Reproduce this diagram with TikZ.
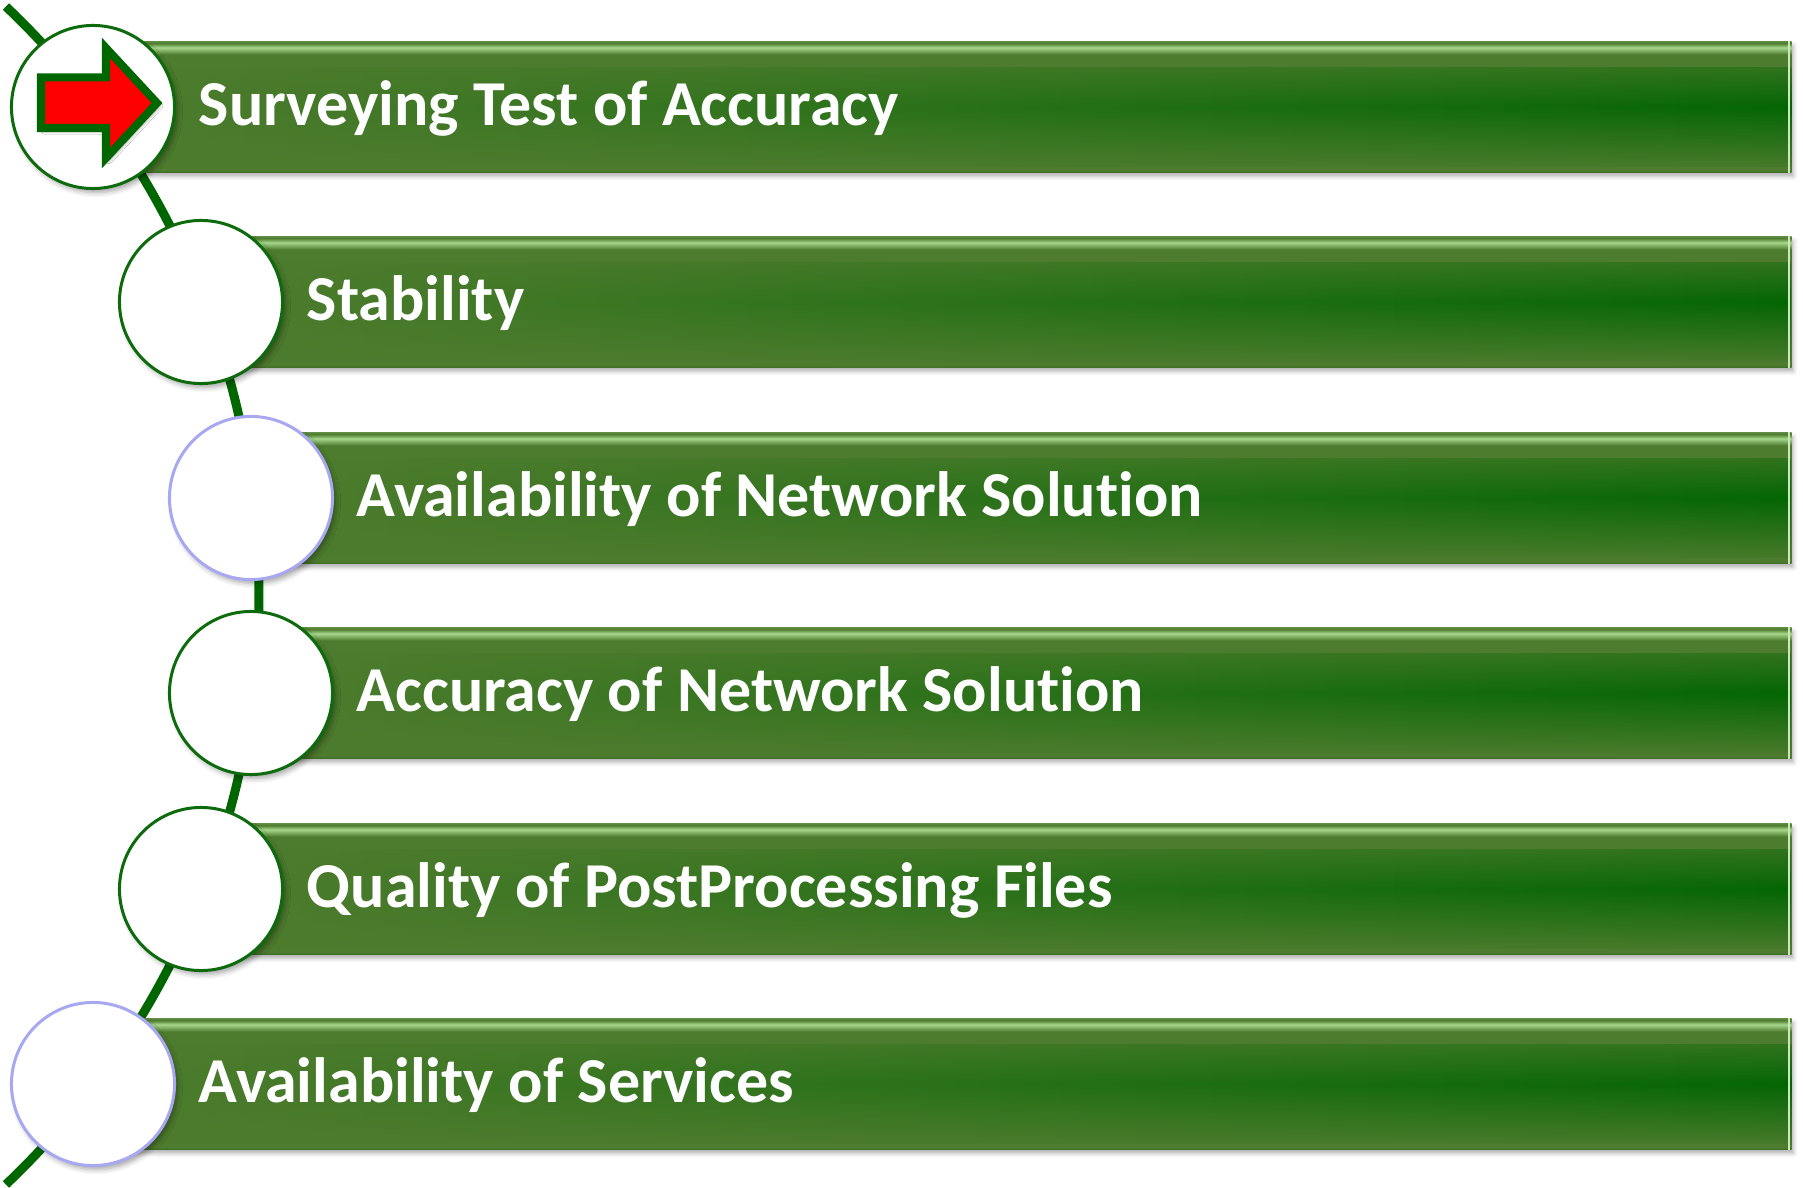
\documentclass[tikz,border=0pt]{standalone}
\usepackage{fontspec}
\setmainfont{Carlito}[Ligatures={NoCommon,NoRare,NoContextual}]
\usetikzlibrary{shadows.blur,fadings}

\definecolor{linegreen}{HTML}{006600}
\definecolor{barbase}{HTML}{4E7C2E}
\definecolor{barhi}{HTML}{A6D88C}
\definecolor{baredge}{HTML}{5E8A42}
\definecolor{barlow}{HTML}{3E6E26}
\definecolor{bardark}{HTML}{046604}
\definecolor{ringgreen}{HTML}{0D6B0D}
\definecolor{ringblue}{HTML}{A8A8F2}

\pgfdeclareverticalshading{barshade}{100bp}{color(0bp)=(barlow); color(25bp)=(barlow); color(26bp)=(barbase); color(70bp)=(barbase); color(72.7bp)=(barhi); color(74.3bp)=(barbase); color(75bp)=(baredge); color(100bp)=(baredge)}
\tikzfading[name=bandfade, top color=transparent!100, bottom color=transparent!100, middle color=transparent!0]

\begin{document}
\begin{tikzpicture}[x=0.01cm, y=-0.01cm,
		ring/.style={circle, draw=ringgreen, fill=white, line width=0.03cm, minimum size=1.63cm, inner sep=0pt,
			blur shadow={shadow xshift=0.03cm, shadow yshift=-0.04cm, shadow blur radius=0.05cm, shadow opacity=35}},
		bar/.style={anchor=west, minimum height=1.31cm, inner sep=0pt, shading=barshade,
			blur shadow={shadow xshift=0.02cm, shadow yshift=-0.04cm, shadow blur radius=0.04cm, shadow opacity=30},
			path picture={
				\shade[left color=barbase, middle color=bardark!85!barbase, right color=bardark, path fading=bandfade]
					([yshift=-0.26cm]path picture bounding box.north west) rectangle ([yshift=0.065cm]path picture bounding box.south east);
				\draw[barhi!60!white, line width=0.02cm]([xshift=-0.025cm]path picture bounding box.north east)--([xshift=-0.025cm]path picture bounding box.south east);
			}},
		itemtext/.style={anchor=base west, inner sep=0pt, text=white, font=\bfseries\fontsize{18.2}{21.8}\selectfont}]
		\useasboundingbox (0,0) rectangle (1803,1188);

		\draw [linegreen, line width=0.09cm](-553,595.5) ++(-46.5:812) arc[start angle=-46.5, end angle=46.5, radius=812];

		\node (b1)[bar, minimum width=16.97cm]at (93,107)  {};
		\node (b2)[bar, minimum width=15.89cm]at (201,302)  {};
		\node (b3)[bar, minimum width=15.39cm]at (251,498)  {};
		\node (b4)[bar, minimum width=15.39cm]at (251,693)  {};
		\node (b5)[bar, minimum width=15.89cm]at (201,889)  {};
		\node (b6)[bar, minimum width=16.97cm]at (93,1084)  {};

		\node (c1)[ring]at (93,107)  {};
		\node (c2)[ring]at (201,302)  {};
		\node (c3)[ring, draw=ringblue]at (251,498)  {};
		\node (c4)[ring]at (251,693)  {};
		\node (c5)[ring]at (201,889)  {};
		\node (c6)[ring, draw=ringblue]at (93,1084)  {};

		\draw [linegreen, fill=red, line width=0.08cm, blur shadow={shadow xshift=0.03cm, shadow yshift=-0.03cm, shadow blur radius=0.03cm, shadow opacity=40}]
			(41,77.5)--(106,77.5)--(106,48)--(157,103)--(106,158)--(106,128)--(41,128)--cycle;

		\node (t1)[itemtext]at ([xshift=0.22cm, yshift=-0.18cm]c1.east)  {Surveying Test of Accuracy};
		\node (t2)[itemtext]at ([xshift=0.22cm, yshift=-0.18cm]c2.east)  {Stability};
		\node (t3)[itemtext]at ([xshift=0.22cm, yshift=-0.18cm]c3.east)  {Availability of Network Solution};
		\node (t4)[itemtext]at ([xshift=0.22cm, yshift=-0.18cm]c4.east)  {Accuracy of Network Solution};
		\node (t5)[itemtext]at ([xshift=0.22cm, yshift=-0.18cm]c5.east)  {Quality of PostProcessing Files};
		\node (t6)[itemtext]at ([xshift=0.22cm, yshift=-0.18cm]c6.east)  {Availability of Services};
	\end{tikzpicture}
\end{document}
